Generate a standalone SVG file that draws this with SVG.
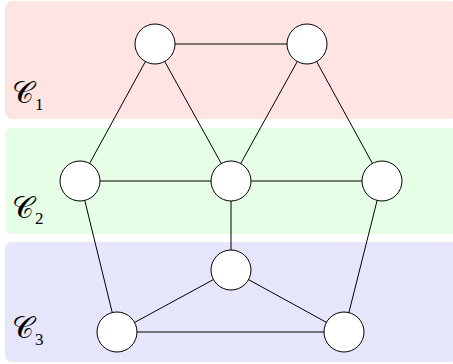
<svg xmlns="http://www.w3.org/2000/svg" width="453" height="364" viewBox="0 0 453 364">
<style>
.n{fill:#fff;stroke:#000;stroke-width:1}
.e{stroke:#000;stroke-width:1;fill:none}
.lab{font-family:"Noto Sans","DejaVu Serif",serif;font-size:30px;fill:#000}
.sub{font-family:"Liberation Serif",serif;font-size:17px;fill:#000}
</style>
<g id="bands">
<rect x="5" y="1" width="452" height="118" rx="7" fill="#ffe4e4"/>
<rect x="5" y="128" width="452" height="106" rx="7" fill="#e6fde6"/>
<rect x="5" y="242" width="452" height="120" rx="7" fill="#e5e5fc"/>
</g>
<g id="labels">
<text class="lab" x="12" y="103">𝒞</text><text class="sub" x="35" y="110">1</text>
<text class="lab" x="12" y="218">𝒞</text><text class="sub" x="35" y="224">2</text>
<text class="lab" x="12" y="338">𝒞</text><text class="sub" x="35" y="345">3</text>
</g>
<g id="connectors">
<line class="e" x1="155" y1="44" x2="307" y2="44"/>
<line class="e" x1="155" y1="44" x2="80" y2="181"/>
<line class="e" x1="155" y1="44" x2="231" y2="181"/>
<line class="e" x1="307" y1="44" x2="231" y2="181"/>
<line class="e" x1="307" y1="44" x2="382" y2="181"/>
<line class="e" x1="80" y1="181" x2="382" y2="181"/>
<line class="e" x1="80" y1="181" x2="117" y2="332"/>
<line class="e" x1="231" y1="181" x2="231" y2="270"/>
<line class="e" x1="382" y1="181" x2="344" y2="332"/>
<line class="e" x1="231" y1="270" x2="117" y2="332"/>
<line class="e" x1="231" y1="270" x2="344" y2="332"/>
<line class="e" x1="117" y1="332" x2="344" y2="332"/>
</g>
<g id="n1"><circle class="n" cx="155" cy="44" r="20"/></g>
<g id="n2"><circle class="n" cx="307" cy="44" r="20"/></g>
<g id="n3"><circle class="n" cx="80" cy="181" r="20"/></g>
<g id="n4"><circle class="n" cx="231" cy="181" r="20"/></g>
<g id="n5"><circle class="n" cx="382" cy="181" r="20"/></g>
<g id="n6"><circle class="n" cx="231" cy="270" r="20"/></g>
<g id="n7"><circle class="n" cx="117" cy="332" r="20"/></g>
<g id="n8"><circle class="n" cx="344" cy="332" r="20"/></g>
</svg>
